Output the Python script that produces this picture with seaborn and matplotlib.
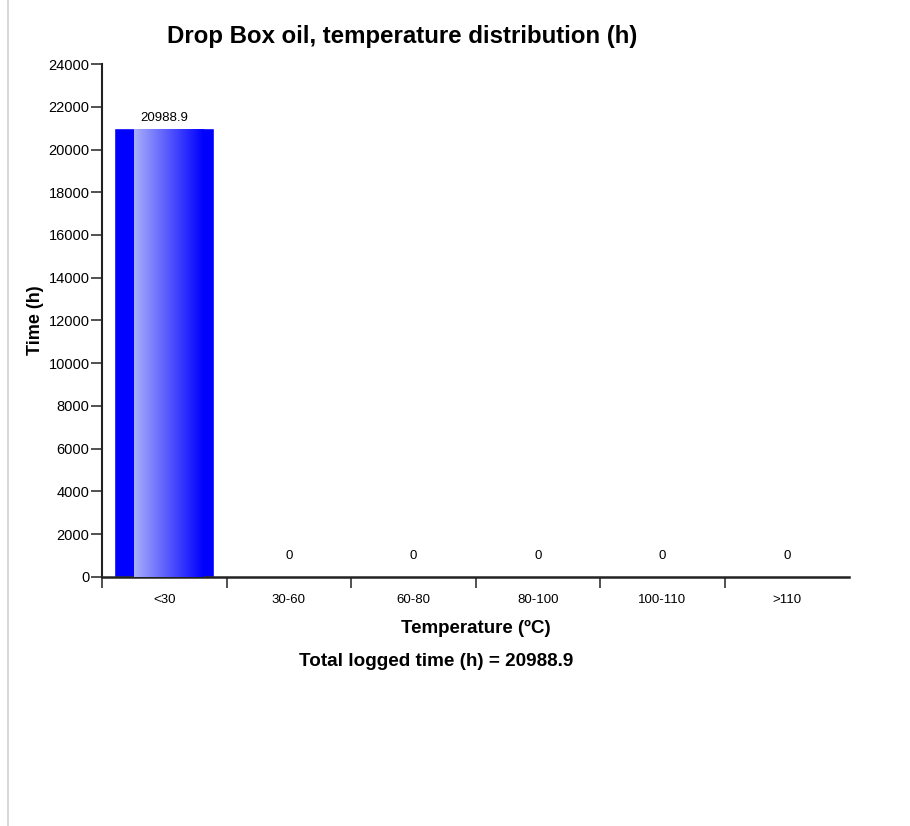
import numpy as np
import pandas as pd
import matplotlib
matplotlib.use("Agg")
import matplotlib.pyplot as plt
from matplotlib.colors import LinearSegmentedColormap
from matplotlib.lines import Line2D
import seaborn as sns

# data
categories = ["<30", "30-60", "60-80", "80-100", "100-110", ">110"]
hours = [20988.9, 0, 0, 0, 0, 0]
total_hours = 20988.9

df = pd.DataFrame({"Temperature": categories, "Time": hours})

sns.set_style("white")
plt.rcParams["font.family"] = ["Liberation Sans", "DejaVu Sans"]
plt.rcParams["text.color"] = "black"
plt.rcParams["axes.labelcolor"] = "black"
plt.rcParams["xtick.color"] = "black"
plt.rcParams["ytick.color"] = "black"

fig = plt.figure(figsize=(9.1, 8.26), dpi=100)
ax = fig.add_axes([0.1121, 0.3015, 0.8209, 0.621])

sns.barplot(data=df, x="Temperature", y="Time", color="#0000ff",
            width=0.8, saturation=1, ax=ax)
ax.set_ylim(0, 24000)
ax.set_xlim(-0.5, len(categories) - 0.5)
ax.set_yticks(np.arange(0, 24001, 2000))

# gradient fill over the bars (solid strip on the left, light -> blue after)
cmap = LinearSegmentedColormap.from_list("barfill", ["#a9aefa", "#0000ff"])
grad = np.linspace(0, 1, 256).reshape(1, -1)
for p in ax.patches:
    h = p.get_height()
    if h <= 0:
        continue
    x0, w = p.get_x(), p.get_width()
    im = ax.imshow(grad, cmap=cmap, aspect="auto", interpolation="bilinear",
                   extent=[x0 + w * 0.2, x0 + w * 0.9, 0, h * 0.998], zorder=3)
    im.set_clip_path(p)

# value labels
for p, v in zip(ax.patches, hours):
    off = 3 if v > 0 else 11
    ax.annotate(f"{v:g}", (p.get_x() + p.get_width() / 2, p.get_height()),
                xytext=(0, off), textcoords="offset points",
                ha="center", va="bottom", fontsize=9.5)

for s in ["top", "right"]:
    ax.spines[s].set_visible(False)
ax.spines["left"].set_linewidth(1.5)
ax.spines["bottom"].set_linewidth(1.8)
ax.spines["left"].set_color("#222222")
ax.spines["bottom"].set_color("#222222")

# x ticks sit on category boundaries (none at the far right end)
ax.set_xticks(np.arange(-0.5, len(categories) - 1, 1.0))
ax.set_xticklabels([])
ax.set_xticks(np.arange(len(categories)), minor=True)
ax.set_xticklabels(categories, minor=True, fontsize=9.5)
ax.tick_params(axis="x", which="major", bottom=True, direction="out",
               length=8, width=1.1, color="#222222")
ax.tick_params(axis="x", which="minor", bottom=False, length=0, pad=12)
ax.tick_params(axis="y", left=True, direction="out", length=8, width=1.1,
               color="#222222", labelsize=10.5, pad=1)

ax.set_xlabel("Temperature (\u00baC)", fontsize=13.5, fontweight="bold", labelpad=10)
ax.set_ylabel("Time (h)", fontsize=13, fontweight="bold", labelpad=3)

fig.text(402 / 910, 1 - 36 / 826, "Drop Box oil, temperature distribution (h)",
         ha="center", va="center", fontsize=17.3, fontweight="bold")
fig.text(436 / 910, 1 - 661 / 826, f"Total logged time (h) = {total_hours:g}",
         ha="center", va="center", fontsize=13.6, fontweight="bold")

# faint page border on the left
fig.add_artist(Line2D([8 / 910, 8 / 910], [1, 0], color="#d0d0d0",
                      linewidth=1.2, transform=fig.transFigure))

fig.savefig("out.png", dpi=100)
